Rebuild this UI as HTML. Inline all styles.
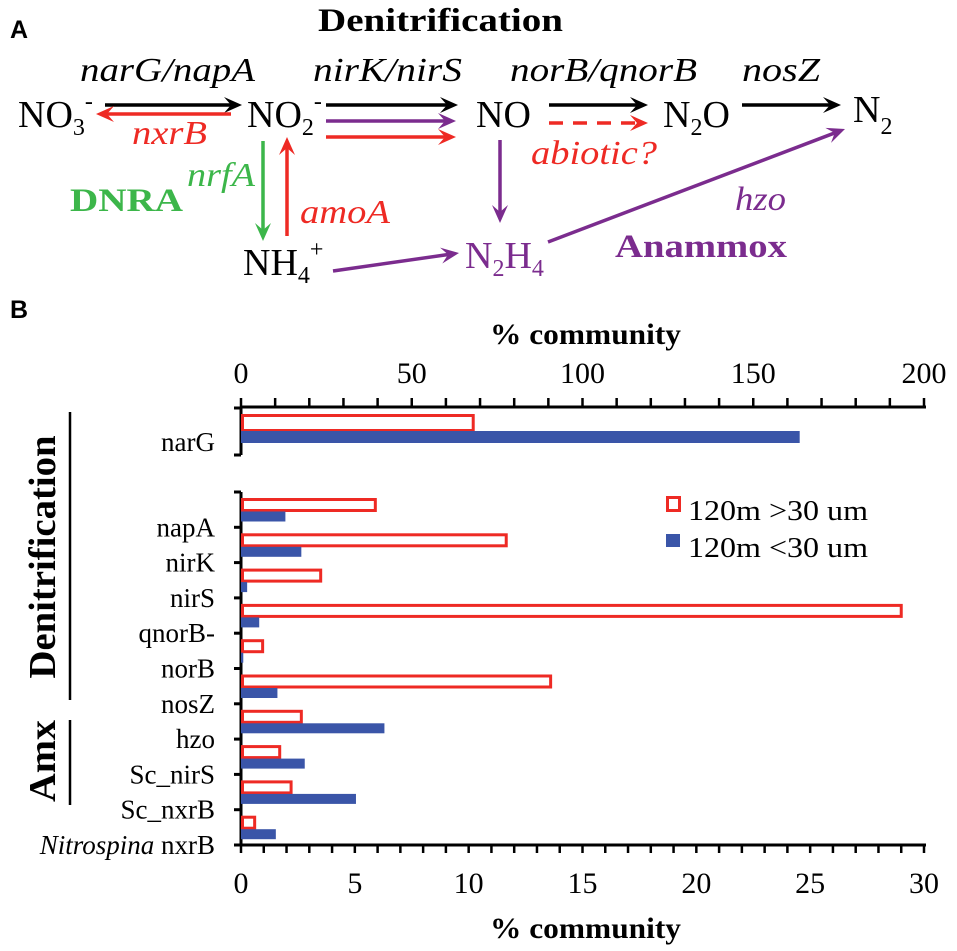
<!DOCTYPE html>
<html><head><meta charset="utf-8"><style>
html,body{margin:0;padding:0;background:#fff;}
svg{display:block;}
</style></head><body>
<svg id="fig" width="957" height="951" viewBox="0 0 957 951">
<g id="panelA"></g>
<g id="panelB"></g>
</svg>
<script>
var NS="http://www.w3.org/2000/svg";
function mk(parent,tag,attrs,text){var e=document.createElementNS(NS,tag);for(var k in attrs)e.setAttribute(k,attrs[k]);if(text!==undefined)e.textContent=text;parent.appendChild(e);return e;}
var A=document.getElementById('panelA');
var RED="#ee2a24",GRN="#3cb64a",PUR="#7b2c8e",BLK="#000";
var SERIF="'Liberation Serif', serif";
var SANS="'Liberation Sans', sans-serif";
function arrow(x1,y1,x2,y2,col,dash){
  var g=mk(A,'g',{});
  
  
  var dx=x2-x1,dy=y2-y1,L=Math.sqrt(dx*dx+dy*dy),ux=dx/L,uy=dy/L,hl=18,hw=8;
  var bx=x2-ux*hl,by=y2-uy*hl;
  var a={x1:x1,y1:y1,x2:x2-ux*10,y2:y2-uy*10,stroke:col,'stroke-width':3.5};
  if(dash)a['stroke-dasharray']='14,10';
  mk(g,'line',a);
  mk(g,'path',{d:'M'+x2+','+y2+' L'+(bx-uy*hw)+','+(by+ux*hw)+' L'+(x2-ux*11)+','+(y2-uy*11)+' L'+(bx+uy*hw)+','+(by-ux*hw)+' Z',fill:col});
}
function txt(parent,x,y,s,attrs,name,tl){var a={x:x,y:y,'font-family':SERIF};for(var k in attrs)a[k]=attrs[k];if(tl){a.textLength=tl;a.lengthAdjust='spacingAndGlyphs';}var t=mk(parent,'text',a);t.innerHTML=s;return t;}
var it={'font-style':'italic','font-size':34};
txt(A,10,38,'A',{'font-family':SANS,'font-weight':'bold','font-size':25},'panel-a-label');
txt(A,318,31,'Denitrification',{'font-weight':'bold','font-size':33},'denitrification-title',245);
txt(A,80,81,'narG/napA',it,'label-narg-napa',175);
txt(A,313,81,'nirK/nirS',it,'label-nirk-nirs',149);
txt(A,510,81,'norB/qnorB',it,'label-norb-qnorb',187);
txt(A,742,81,'nosZ',it,'label-nosz',78);
var cm={'font-size':38};
txt(A,18,127,'NO<tspan font-size="24" dy="8">3</tspan><tspan font-size="24" dy="-26">-</tspan>',cm,'species-no3');
txt(A,247,127,'NO<tspan font-size="24" dy="8">2</tspan><tspan font-size="24" dy="-26">-</tspan>',cm,'species-no2');
txt(A,476,127,'NO',cm,'species-no');
txt(A,663,127,'N<tspan font-size="24" dy="8">2</tspan><tspan dy="-8">O</tspan>',cm,'species-n2o');
txt(A,853,122,'N<tspan font-size="24" dy="12">2</tspan>',cm,'species-n2');
txt(A,243,275,'NH<tspan font-size="24" dy="8">4</tspan><tspan font-size="24" dy="-26">+</tspan>',cm,'species-nh4');
txt(A,465,268,'N<tspan font-size="24" dy="8">2</tspan><tspan dy="-8">H</tspan><tspan font-size="24" dy="8">4</tspan>',{'font-size':38,fill:PUR},'species-n2h4');
txt(A,132,144,'nxrB',{'font-style':'italic','font-size':34,fill:RED},'label-nxrb',75);
txt(A,187,186,'nrfA',{'font-style':'italic','font-size':34,fill:GRN},'label-nrfa',68);
txt(A,70,211,'DNRA',{'font-weight':'bold','font-size':33,fill:GRN},'label-dnra',113);
txt(A,300,223,'amoA',{'font-style':'italic','font-size':34,fill:RED},'label-amoa',90);
txt(A,531,164,'abiotic?',{'font-style':'italic','font-size':34,fill:RED},'label-abiotic',126);
txt(A,735,210,'hzo',{'font-style':'italic','font-size':34,fill:PUR},'label-hzo',51);
txt(A,615,257,'Anammox',{'font-weight':'bold','font-size':33,fill:PUR},'label-anammox',172);
arrow(105,105,242,105,BLK);
arrow(231,114,96,114,RED);
arrow(326,105,458,105,BLK);
arrow(326,121,456,121,PUR);
arrow(326,137,456,137,RED);
arrow(549,105,648,105,BLK);
arrow(549,123,648,123,RED,true);
arrow(742,105,841,105,BLK);
arrow(263,141,263,241,GRN);
arrow(287,236,287,137,RED);
arrow(500,140,500,223,PUR);
arrow(333,271,459,253,PUR);
arrow(548,242,845,129,PUR);

// ---------- Panel B chart data ----------
var categories=["napA","nirK","nirS","qnorB-","norB","nosZ","hzo","Sc_nirS","Sc_nxrB","Nitrospina nxrB"];
var seriesLarge=[5.9,11.65,3.5,29.0,0.95,13.6,2.65,1.7,2.2,0.6];
var seriesSmall=[1.95,2.65,0.27,0.8,0.1,1.6,6.3,2.8,5.05,1.53];
var narGCategory=["narG"];
var narGLarge=[68];
var narGSmall=[163.6];
var bottomTicks=[0,5,10,15,20,25,30];
var topTicks=[0,50,100,150,200];
var seriesNames=["120m >30 um","120m <30 um"];

var B=document.getElementById('panelB');
var X0=241,X1=924;
function xb(v){return X0+(v/30)*(X1-X0);}
function xt(v){return X0+(v/200)*(X1-X0);}
var AXB=845,ROWH=35.3,N=categories.length;
function rowTop(i){return AXB-(N-i)*ROWH;}
var NTOP=407,NBOT=455;

txt(B,10,318,'B',{'font-family':SANS,'font-weight':'bold','font-size':25},'panel-b-label');
txt(B,490,344,'% community',{'font-weight':'bold','font-size':30},'top-axis-title',191);
txt(B,490,938,'% community',{'font-weight':'bold','font-size':30},'bottom-axis-title',191);

var l=mk(B,'line',{x1:X0,y1:NTOP,x2:X1+2,y2:NTOP,stroke:'#000','stroke-width':3});

for(var v=0;v<=200;v+=10){var t=mk(B,'line',{x1:xt(v),y1:NTOP-9,x2:xt(v),y2:NTOP,stroke:'#000','stroke-width':2.5});}
topTicks.forEach(function(v){txt(B,xt(v),383,String(v),{'font-size':30,'text-anchor':'middle'},'top-tick-label');});
l=mk(B,'line',{x1:X0,y1:NTOP,x2:X0,y2:NBOT,stroke:'#000','stroke-width':3});

mk(B,'line',{x1:X0-7,y1:NBOT,x2:X0,y2:NBOT,stroke:'#000','stroke-width':3});
mk(B,'line',{x1:X0-7,y1:NTOP+1,x2:X0,y2:NTOP+1,stroke:'#000','stroke-width':3});
txt(B,215,451,narGCategory[0],{'font-size':27,'text-anchor':'end'},'category-label-narg');
var r=mk(B,'rect',{x:X0+1.5,y:415.5,width:xt(narGLarge[0])-X0-1.5,height:15,fill:'#fff',stroke:RED,'stroke-width':3});

r=mk(B,'rect',{x:X0,y:431,width:xt(narGSmall[0])-X0,height:12,fill:'#3a55a8'});


l=mk(B,'line',{x1:X0,y1:AXB,x2:X1+2,y2:AXB,stroke:'#000','stroke-width':3});

for(v=0;v<=30;v++){t=mk(B,'line',{x1:xb(v),y1:AXB,x2:xb(v),y2:AXB+8,stroke:'#000','stroke-width':2.5});}
bottomTicks.forEach(function(v){txt(B,xb(v),893,String(v),{'font-size':30,'text-anchor':'middle'},'bottom-tick-label');});
l=mk(B,'line',{x1:X0,y1:rowTop(0),x2:X0,y2:AXB,stroke:'#000','stroke-width':3});

for(var i=0;i<=N;i++){mk(B,'line',{x1:X0-7,y1:rowTop(i),x2:X0,y2:rowTop(i),stroke:'#000','stroke-width':3});}
categories.forEach(function(c,i){
  var y=rowTop(i);
  var lab;
  if(c.indexOf('Nitrospina')===0){lab='<tspan font-style="italic">Nitrospina</tspan> nxrB';}else lab=c;
  txt(B,215,y+ROWH+9,lab,{'font-size':27,'text-anchor':'end'},'category-label');
  var rr=mk(B,'rect',{x:X0+1.5,y:y+7.5,width:Math.max(xb(seriesLarge[i])-X0-1.5,0),height:11,fill:'#fff',stroke:RED,'stroke-width':3});
  
  
  var rb=mk(B,'rect',{x:X0,y:y+19.5,width:Math.max(xb(seriesSmall[i])-X0,1),height:10,fill:'#3a55a8'});
  
  
});

txt(B,0,0,'Denitrification',{'font-weight':'bold','font-size':38,'text-anchor':'middle',transform:'translate(55,557) rotate(-90)'},'group-label-denitrification',243);
mk(B,'line',{x1:70,y1:412,x2:70,y2:700,stroke:'#000','stroke-width':2.5});
txt(B,0,0,'Amx',{'font-weight':'bold','font-size':38,'text-anchor':'middle',transform:'translate(55,761) rotate(-90)'},'group-label-amx',82);
mk(B,'line',{x1:70,y1:720,x2:70,y2:805,stroke:'#000','stroke-width':2.5});

var lg=mk(B,'g',{});


var le=mk(lg,'rect',{x:667.5,y:497.5,width:12,height:13,fill:'#fff',stroke:RED,'stroke-width':3});


txt(lg,688,520,seriesNames[0],{'font-size':29},'legend-entry-large',180);
le=mk(lg,'rect',{x:666,y:534,width:14,height:13,fill:'#3a55a8'});


txt(lg,688,557,seriesNames[1],{'font-size':29},'legend-entry-small',180);
</script>
</body></html>
